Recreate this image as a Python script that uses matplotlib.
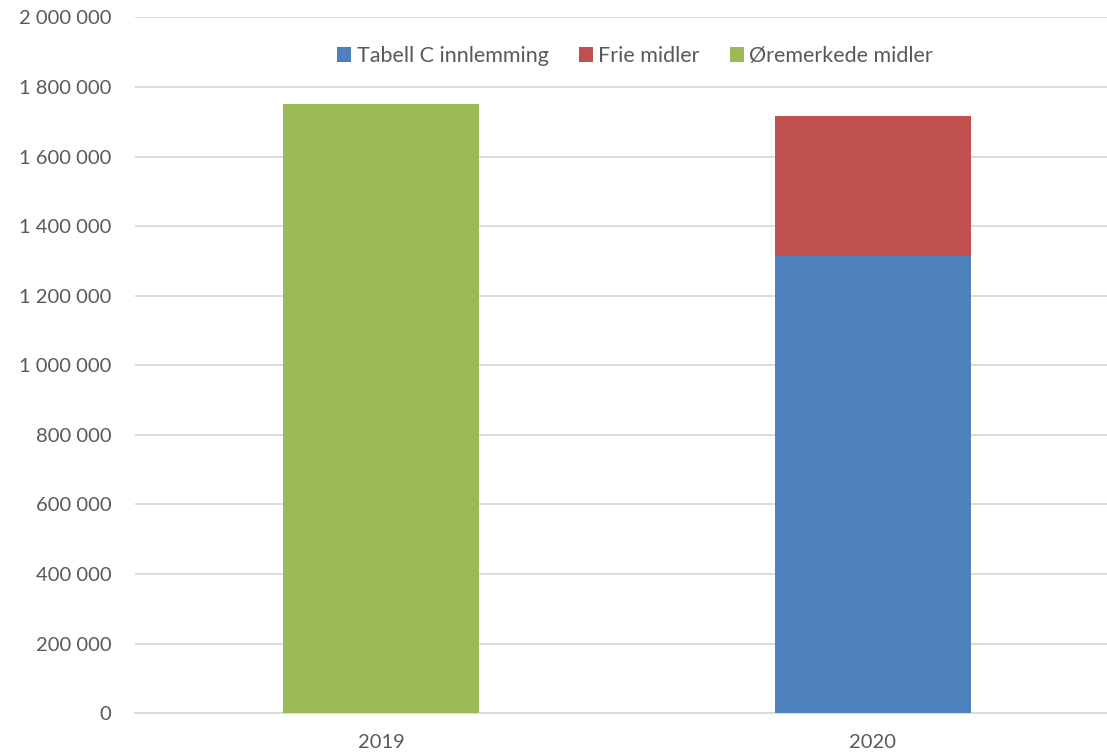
import matplotlib
matplotlib.use('agg')

import matplotlib.pyplot as plt
import numpy as np
from matplotlib.ticker import FuncFormatter

# data
years = ['2019', '2020']
tabell_c = [0, 1315000]
frie_midler = [0, 401000]
oremerkede = [1751000, 0]
series_names = ['Tabell C innlemming', 'Frie midler', 'Øremerkede midler']
colors = ['#4F81BD', '#C0504D', '#9BBB59']

plt.rcParams['font.family'] = ['Lato', 'DejaVu Sans']
text_color = '#595959'

W, H = 1107, 755
fig = plt.figure(figsize=(W / 100, H / 100), dpi=100)
# plot area: left 135px, bottom 713px, top 17px, right runs past the edge
ax = fig.add_axes([135 / W, (H - 713.3) / H, (1119 - 135) / W, (713.3 - 17.3) / H])

x = np.arange(len(years))
bottom = np.zeros(len(years))
for name, vals, c in zip(series_names, [tabell_c, frie_midler, oremerkede], colors):
    ax.bar(x, vals, width=0.4, bottom=bottom, color=c, label=name, zorder=3)
    bottom += np.array(vals)

ax.set_xlim(-0.5, len(years) - 0.5)
ax.set_ylim(0, 2000000)
ax.set_yticks(np.arange(0, 2000001, 200000))
ax.yaxis.set_major_formatter(FuncFormatter(lambda v, p: f'{int(v):,}'.replace(',', ' ')))
ax.set_xticks(x)
ax.set_xticklabels(years)

ax.grid(axis='y', color='#D9D9D9', linewidth=1.3, zorder=0)
for s in ['top', 'right', 'left']:
    ax.spines[s].set_visible(False)
ax.spines['bottom'].set_color('#D9D9D9')
ax.spines['bottom'].set_linewidth(1.3)
ax.tick_params(axis='both', length=0, labelsize=14.5, colors=text_color)
ax.tick_params(axis='y', pad=17)
ax.tick_params(axis='x', pad=15)

leg = ax.legend(loc='center', bbox_to_anchor=((635 - 135) / (1119 - 135), (713.3 - 56) / 696),
                ncol=3, frameon=False, fontsize=15.5, handlelength=0.65, handleheight=0.65,
                handletextpad=0.25, columnspacing=1.4)
for t in leg.get_texts():
    t.set_color(text_color)

fig.savefig('out.png', dpi=100)
